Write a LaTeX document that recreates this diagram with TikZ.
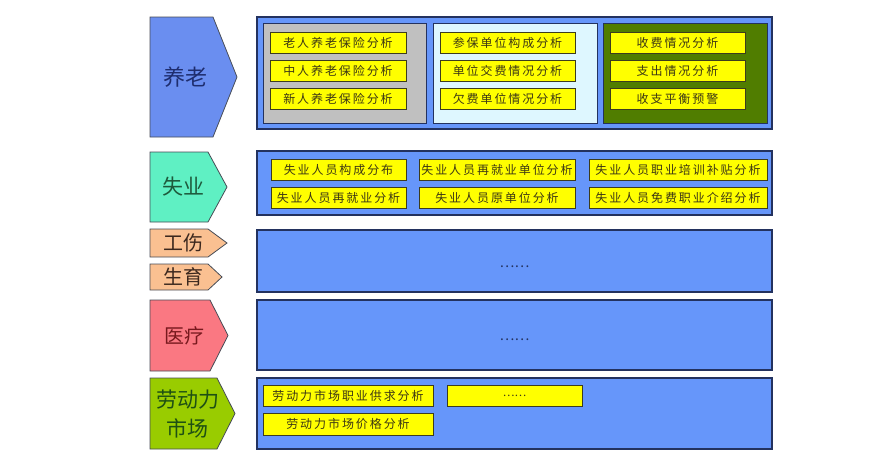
\documentclass[tikz,border=0pt]{standalone}
\usepackage{fontspec}
\setmainfont{Noto Sans CJK SC}
\newfontfamily\cjkwide[LetterSpace=16]{Noto Sans CJK SC}
\usetikzlibrary{arrows.meta}

\definecolor{panelblue}{RGB}{102,150,250}
\definecolor{panelline}{RGB}{35,50,95}
\definecolor{boxyellow}{RGB}{255,255,0}
\definecolor{yline}{RGB}{60,60,30}
\definecolor{ytext}{RGB}{60,55,20}
\definecolor{subgray}{RGB}{192,192,192}
\definecolor{subcyan}{RGB}{222,247,255}
\definecolor{subgreen}{RGB}{80,125,0}
\definecolor{chevline}{RGB}{70,75,85}
\definecolor{chevblue}{RGB}{106,142,240}
\definecolor{chevmint}{RGB}{95,240,195}
\definecolor{chevpeach}{RGB}{250,192,145}
\definecolor{chevpink}{RGB}{250,120,130}
\definecolor{chevlime}{RGB}{153,204,0}
\definecolor{tblue}{RGB}{30,45,110}
\definecolor{tgreen}{RGB}{30,90,60}
\definecolor{tbrown}{RGB}{60,40,30}
\definecolor{tred}{RGB}{120,25,30}
\definecolor{tolive}{RGB}{30,80,20}

\begin{document}
\begin{tikzpicture}[x=1pt, y=-1pt,
    panel/.style={draw=panelline, line width=1.2pt, fill=panelblue, inner sep=0pt},
    subpanel/.style={draw=panelline, line width=1pt, inner sep=0pt, minimum width=164pt, minimum height=100pt},
    ybox/.style={draw=yline, line width=0.9pt, fill=boxyellow, inner sep=0pt, minimum height=21pt, text=ytext, font=\cjkwide\fontsize{12}{14}\selectfont},
    chev/.style={draw=chevline, line width=0.8pt},
    dots/.style={text=panelline, font=\fontsize{14}{16}\selectfont}]
\useasboundingbox (0,0) rectangle (882,475);

% Left chevrons
\foreach \top/\bot/\rgt/\tip/\fc/\tc/\fs/\lbl [count=\i] in {17/137/213/237/chevblue/tblue/22/养老, 152/222/208/227/chevmint/tgreen/21/失业, 229/257/208/227/chevpeach/tbrown/20/工伤, 264/290/208/222/chevpeach/tbrown/20/生育, 300/371/210/228/chevpink/tred/20/医疗, 378/449/217/235/chevlime/tolive/21/{劳动力\\市场}} {
    \draw[chev, fill=\fc] (150,\top) -- (\rgt,\top) -- (\tip,{(\top+\bot)/2}) -- (\rgt,\bot) -- (150,\bot) -- cycle;
    \node[text=\tc, align=center, font=\fontsize{\fs}{29}\selectfont] (lbl\i) at ({(150+\rgt)/2+4},{(\top+\bot)/2}) {\lbl};
}

% Pension panel
\node[panel, minimum width=515pt, minimum height=112pt] (pension) at (514.5,73) {};
\node[subpanel, fill=subgray, minimum width=163pt] (old) at (344.5,73) {};
\node[subpanel, fill=subcyan] (unit) at (515,73) {};
\node[subpanel, fill=subgreen] (fund) at (685,73) {};
\foreach \y/\a/\b/\c [count=\i] in {42.5/老人养老保险分析/参保单位构成分析/收费情况分析, 70.5/中人养老保险分析/单位交费情况分析/支出情况分析, 98.5/新人养老保险分析/欠费单位情况分析/收支平衡预警} {
    \node[ybox, minimum width=136pt] (old\i) at (338,\y) {\a};
    \node[ybox, minimum width=135pt] (unit\i) at (507.5,\y) {\b};
    \node[ybox, minimum width=135pt] (fund\i) at (677.5,\y) {\c};
}

% Unemployment panel
\node[panel, minimum width=515pt, minimum height=64pt] (jobless) at (514.5,183) {};
\foreach \y/\a/\b/\c [count=\i] in {169.5/失业人员构成分布/失业人员再就业单位分析/失业人员职业培训补贴分析, 198/失业人员再就业分析/失业人员原单位分析/失业人员免费职业介绍分析} {
    \node[ybox, minimum width=135pt] (jla\i) at (338.5,\y) {\a};
    \node[ybox, minimum width=156pt] (jlb\i) at (497,\y) {\b};
    \node[ybox, minimum width=178pt] (jlc\i) at (678,\y) {\c};
}

% Injury / maternity and medical panels
\node[panel, minimum width=515pt, minimum height=62pt] (injury) at (514.5,261) {};
\node[dots] (injurydots) at (514.5,267) {……};
\node[panel, minimum width=515pt, minimum height=70pt] (medical) at (514.5,335) {};
\node[dots] (medicaldots) at (514.5,340) {……};

% Labour market panel
\node[panel, minimum width=515pt, minimum height=71pt] (labour) at (514.5,413.5) {};
\node[ybox, minimum width=170pt] (lab1) at (348,395.5) {劳动力市场职业供求分析};
\node[ybox, minimum width=135pt, font=\fontsize{11}{13}\selectfont] (lab2) at (514.5,395.5) {……};
\node[ybox, minimum width=170pt, minimum height=22pt] (lab3) at (348,424) {劳动力市场价格分析};

\end{tikzpicture}
\end{document}
